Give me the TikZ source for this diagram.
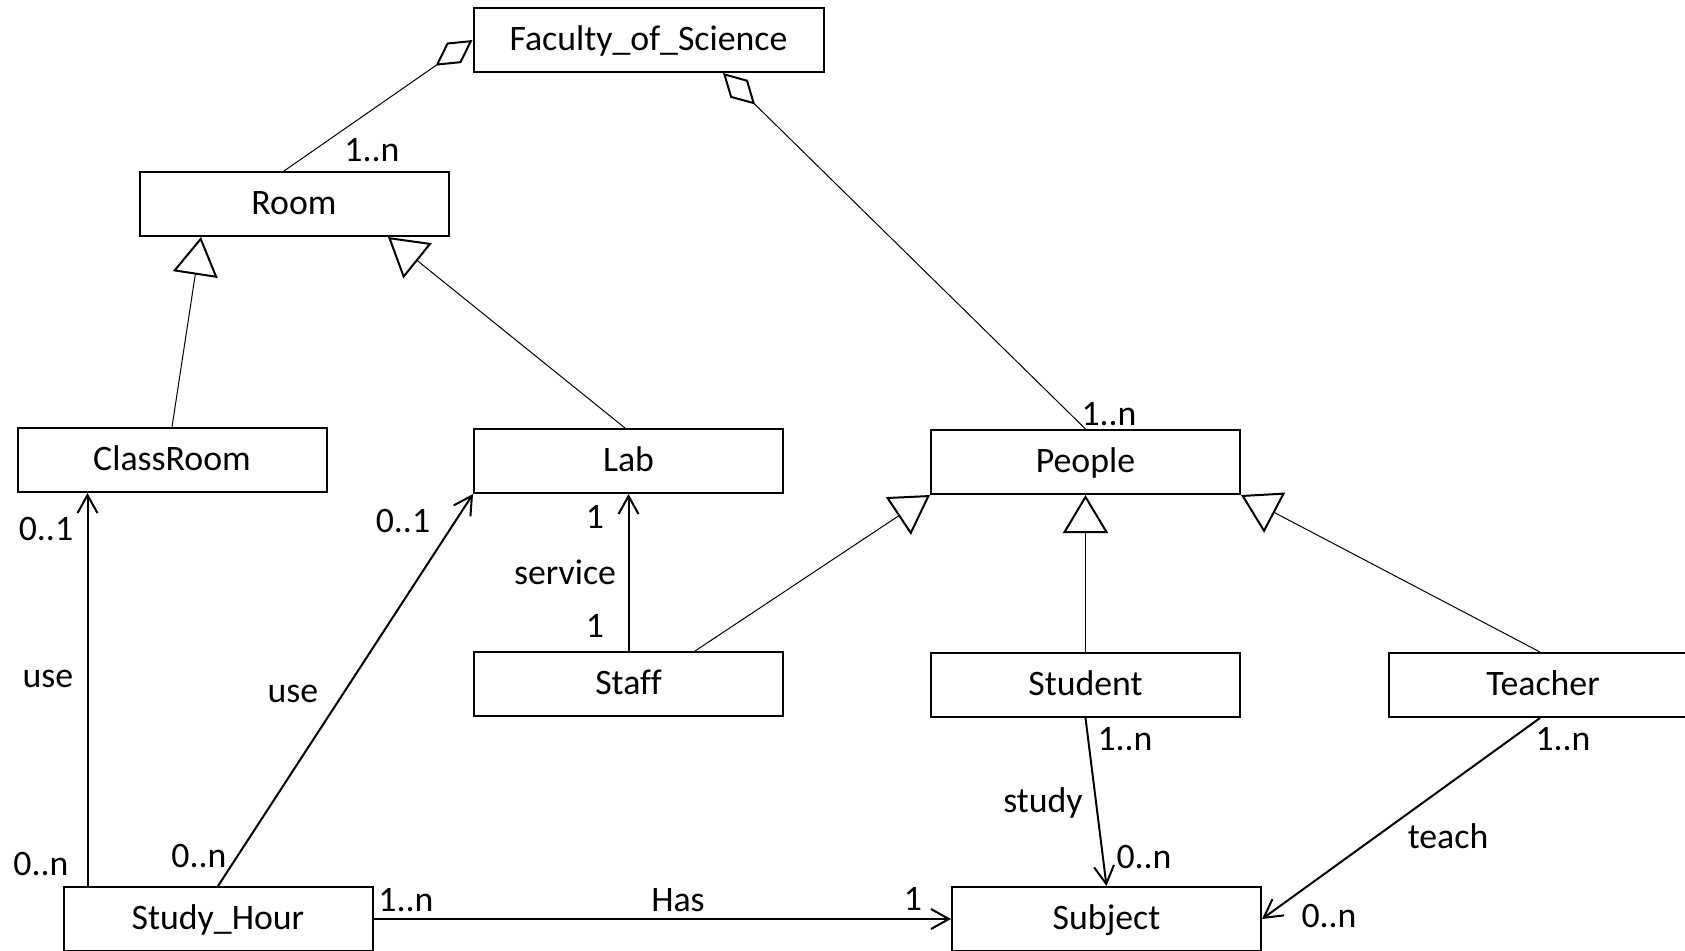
\documentclass[tikz,border=0pt]{standalone}
\usepackage{fontspec}
\setmainfont{Carlito}[Ligatures=NoCommon]
\usetikzlibrary{arrows.meta,calc}
\begin{document}
\begin{tikzpicture}[x=0.5pt,y=-0.5pt,
  font=\fontsize{17.9pt}{21pt}\selectfont,
  cls/.style={draw,line width=1pt,minimum width=154.5pt,minimum height=32pt,
    inner sep=0pt,text height=10pt,text depth=0pt},
  lbl/.style={anchor=base,inner sep=0pt},
  gen/.style={line width=0.5pt,-{Triangle[open,length=19pt,width=22.5pt,line width=1pt]}},
  agg/.style={line width=0.5pt,-{Diamond[open,length=22.5pt,width=12.5pt,line width=1pt]}},
  assoc/.style={line width=1pt,-{Straight Barb[length=9pt,width=10pt]}}]
\clip (0,0) rectangle (1685,950);
\fill[white] (0,0) rectangle (1685,950);

% classes
\node[cls,minimum width=175pt] (fac) at (648.5,40) {Faculty\_of\_Science};
\node[cls] (room)      at (294,204)    {Room};
\node[cls] (classroom) at (172,460)    {ClassRoom};
\node[cls] (lab)       at (628.5,461)  {Lab};
\node[cls] (people)    at (1085.5,462) {People};
\node[cls] (staff)     at (628.5,684)  {Staff};
\node[cls] (student)   at (1085.5,685) {Student};
\node[cls] (teacher)   at (1543,685)   {Teacher};
\node[cls] (studyhour) at (218,919)    {Study\_Hour};
\node[cls] (subject)   at (1106.5,919) {Subject};

% aggregation
\draw[agg] ($(room.north)+(-10,0)$) -- (fac.west);
\draw[agg] (people.north) -- ($(fac.south)+(74.5,0)$);

% generalization
\draw[gen] (classroom.north) -- ($(room.south)+(-93,0)$);
\draw[gen] ($(lab.north)+(-3.5,0)$) -- ($(room.south)+(94,0)$);
\draw[gen] ($(staff.north)+(66.5,0)$) -- (people.south west);
\draw[gen] (student.north) -- (people.south);
\draw[gen] ($(teacher.north)+(-3,0)$) -- (people.south east);

% associations
\coordinate (shl) at ($(studyhour.north west)+(25,0)$);
\draw[assoc] (shl) -- (shl |- classroom.south);
\draw[assoc] (studyhour.north) -- (lab.south west);
\draw[assoc] (staff.north) -- (lab.south);
\draw[assoc] (studyhour.east) -- (subject.west);
\draw[assoc] (student.south) -- (subject.north);
\draw[assoc] ($(teacher.south)+(-3,0)$) -- (subject.east);

% multiplicities and roles
\node[lbl] at (372,161.5) {1..n};
\node[lbl] at (1109,425)  {1..n};
\node[lbl] at (46,540)    {0..1};
\node[lbl] at (48,687)    {use};
\node[lbl] at (41,875)    {0..n};
\node[lbl] at (403,532)   {0..1};
\node[lbl] at (293,702)   {use};
\node[lbl] at (199,867)   {0..n};
\node[lbl] at (595,528)   {1};
\node[lbl] at (565,584)   {service};
\node[lbl] at (595,637)   {1};
\node[lbl] at (406,911)   {1..n};
\node[lbl] at (678,911)   {Has};
\node[lbl] at (913,910)   {1};
\node[lbl] at (1125,750)  {1..n};
\node[lbl] at (1043,812)  {study};
\node[lbl] at (1144,868)  {0..n};
\node[lbl] at (1563,750)  {1..n};
\node[lbl] at (1448,848)  {teach};
\node[lbl] at (1329,927)  {0..n};
\end{tikzpicture}
\end{document}
